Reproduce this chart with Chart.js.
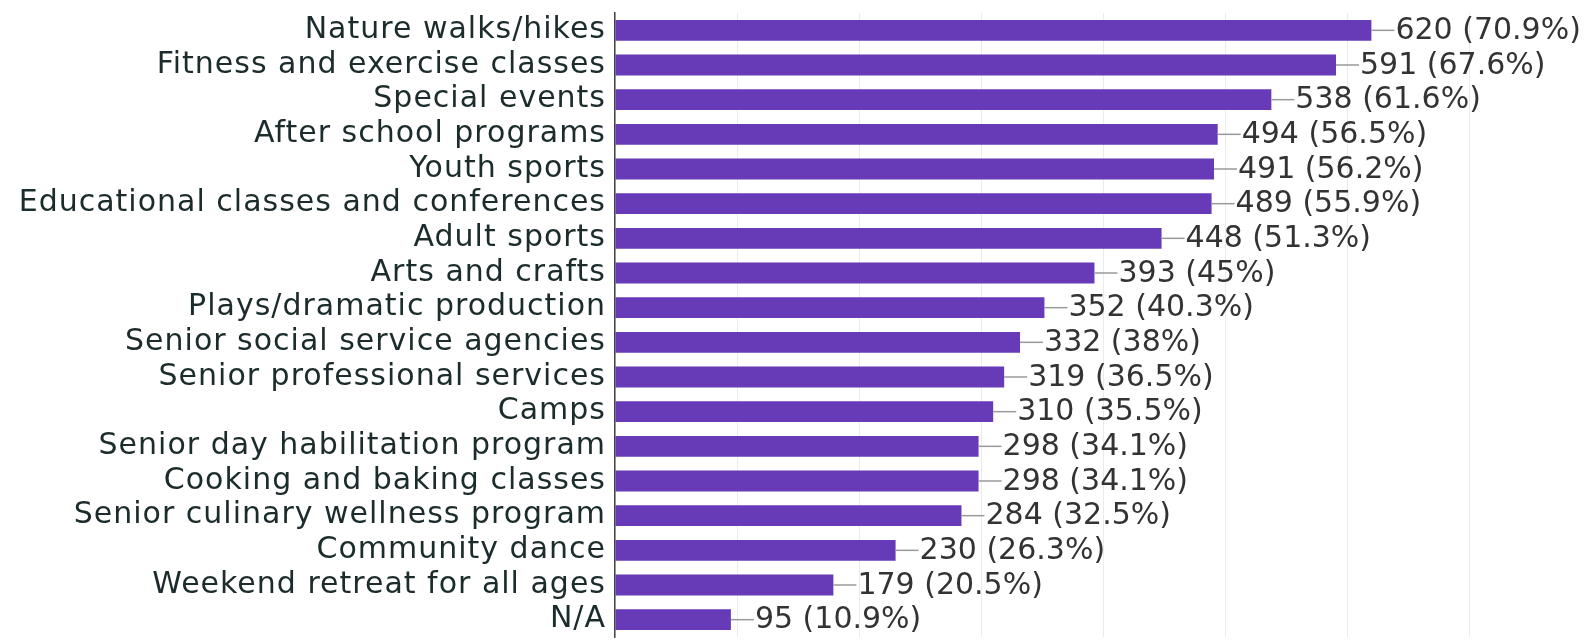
<!DOCTYPE html>
<html lang="en">
<head>
    <meta charset="UTF-8">
    <title>Program interest</title>
    <script src="https://cdn.jsdelivr.net/npm/chart.js"></script>
    <style>
        body { margin: 0; background: #fff; }
        .wrap { width: 1591px; height: 641px; }
    </style>
</head>
<body>
    <div class="wrap"><canvas id="programChart"></canvas></div>
    <script>
        const programs = [
            'Nature walks/hikes', 'Fitness and exercise classes', 'Special events',
            'After school programs', 'Youth sports', 'Educational classes and conferences',
            'Adult sports', 'Arts and crafts', 'Plays/dramatic production',
            'Senior social service agencies', 'Senior professional services', 'Camps',
            'Senior day habilitation program', 'Cooking and baking classes',
            'Senior culinary wellness program', 'Community dance',
            'Weekend retreat for all ages', 'N/A'
        ];
        const responses = [620, 591, 538, 494, 491, 489, 448, 393, 352, 332, 319, 310, 298, 298, 284, 230, 179, 95];
        const percents = ['70.9', '67.6', '61.6', '56.5', '56.2', '55.9', '51.3', '45', '40.3', '38', '36.5', '35.5', '34.1', '34.1', '32.5', '26.3', '20.5', '10.9'];
        const xTicks = [0, 100, 200, 300, 400, 500, 600, 700, 800];

        // espaçamento das letras nos nomes do eixo
        const spacing = {
            id: 'spacing',
            beforeDraw(chart) {
                chart.ctx.letterSpacing = '1px';
            }
        };

        // etiquetas de valor com a linha guia
        const valueLabels = {
            id: 'valueLabels',
            afterDatasetsDraw(chart) {
                const ctx = chart.ctx;
                const meta = chart.getDatasetMeta(0);
                ctx.save();
                ctx.letterSpacing = '0px';
                meta.data.forEach((bar, i) => {
                    ctx.strokeStyle = '#9a9a9a';
                    ctx.lineWidth = 1.5;
                    ctx.beginPath();
                    ctx.moveTo(bar.x, bar.y);
                    ctx.lineTo(bar.x + 23, bar.y);
                    ctx.stroke();
                    ctx.fillStyle = '#333';
                    ctx.font = '30px "DejaVu Sans"';
                    ctx.textAlign = 'left';
                    ctx.textBaseline = 'middle';
                    ctx.fillText(responses[i] + ' (' + percents[i] + '%)', bar.x + 24, bar.y + 1);
                });
                ctx.restore();
            }
        };

        new Chart(document.getElementById('programChart'), {
            type: 'bar',
            data: {
                labels: programs,
                datasets: [{
                    data: responses,
                    backgroundColor: '#673ab7',
                    borderWidth: 0,
                    barPercentage: 0.6,
                    categoryPercentage: 1
                }]
            },
            options: {
                indexAxis: 'y',
                responsive: true,
                maintainAspectRatio: false,
                animation: false,
                layout: { padding: { top: 13, bottom: 4, left: 0, right: 0 } },
                plugins: {
                    legend: { display: false },
                    tooltip: { enabled: false }
                },
                scales: {
                    x: {
                        min: 0,
                        max: 800,
                        afterBuildTicks: scale => { scale.ticks = xTicks.map(v => ({ value: v })); },
                        afterFit: scale => { scale.height = 0; },
                        ticks: { display: false },
                        grid: { color: '#ebebeb', lineWidth: 1, drawTicks: false },
                        border: { display: false }
                    },
                    y: {
                        afterFit: scale => {
                            scale.width = 615;
                            scale.paddingTop = 0;
                            scale.paddingBottom = 0;
                        },
                        grid: { display: false, drawTicks: false },
                        border: { display: true, color: '#444', width: 1.5 },
                        ticks: {
                            autoSkip: false,
                            color: '#1c2b2b',
                            padding: 9,
                            font: { family: 'DejaVu Sans', size: 30 }
                        }
                    }
                }
            },
            plugins: [spacing, valueLabels]
        });
    </script>
</body>
</html>
